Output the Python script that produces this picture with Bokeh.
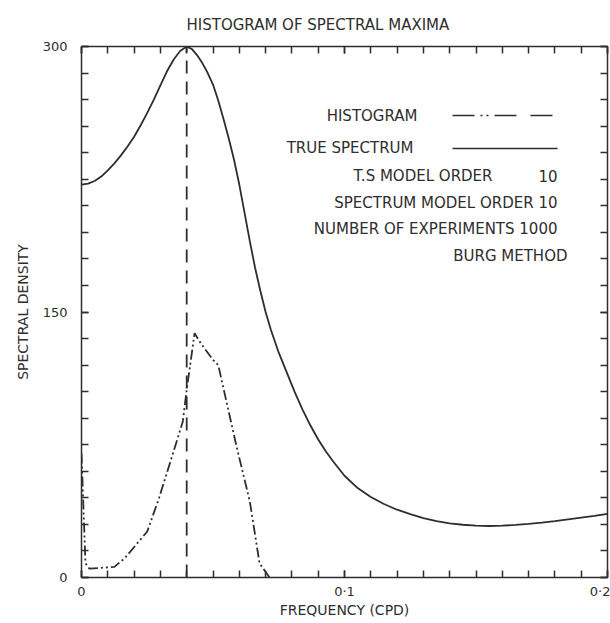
from bokeh.plotting import figure
from bokeh.models import (Range1d, FixedTicker, LinearAxis, CustomJSTickFormatter, Label)
from bokeh.embed import file_html
from bokeh.resources import INLINE

# ---------------- data ----------------
# true spectrum (solid line)
true_freq = [0.000, 0.0025, 0.005, 0.0075, 0.010, 0.0125, 0.015, 0.0175, 0.020,
             0.0225, 0.025, 0.0275, 0.030, 0.0325, 0.035, 0.0375, 0.040, 0.042,
             0.044, 0.046, 0.048, 0.050, 0.052, 0.054, 0.056, 0.058, 0.060,
             0.062, 0.064, 0.066, 0.068, 0.070, 0.072, 0.075, 0.078, 0.081,
             0.084, 0.087, 0.090, 0.093, 0.096, 0.100, 0.105, 0.110, 0.115,
             0.120, 0.125, 0.130, 0.135, 0.140, 0.145, 0.150, 0.155, 0.160,
             0.165, 0.170, 0.175, 0.180, 0.185, 0.190, 0.195, 0.200]
true_vals = [222, 222.5, 224, 226.5, 230, 234, 238.5, 243.5, 249,
             255.5, 262.5, 270, 278, 286, 292.5, 297.5, 300, 298.5,
             295, 290.5, 285, 278.5, 269.5, 259, 248, 236, 222,
             206, 190, 175, 162, 150, 140, 127, 116, 105,
             95, 86, 78, 71, 65, 57.5, 50.5, 45.5, 41.5,
             38.3, 35.8, 33.5, 31.8, 30.6, 29.8, 29.3, 29.1, 29.3,
             29.7, 30.3, 31, 31.8, 32.8, 33.8, 34.8, 36]

# histogram of spectral maxima (dash-dot-dot line)
hist_freq = [0.0, 0.0015, 0.003, 0.0125, 0.0165, 0.025, 0.0295, 0.0335, 0.0385,
             0.040, 0.043, 0.0455, 0.050, 0.052, 0.0588, 0.064, 0.0677, 0.0715]
hist_vals = [70, 8, 5, 6, 11, 26, 45, 64, 88,
             106, 138, 132, 123, 120, 75, 43, 8, 0]

# frequency of the true spectral peak (vertical dashed line)
peak_freq = [0.04]
peak_vals = [300]

x_major = [0, 0.1, 0.2]
x_minor = [round(0.01 * i, 2) for i in range(21)]
y_major = [0, 150, 300]
y_minor = [15 * i for i in range(21)]

legend_lines = ["T.S MODEL ORDER", "SPECTRUM MODEL ORDER 10",
                "NUMBER OF EXPERIMENTS 1000", "BURG METHOD"]

# ---------------- figure ----------------
INK = "#2e2e2e"
FONT = "DejaVu Sans"

W, H = 610, 623
FL, FR, FT, FB = 81, 607, 46, 577   # frame edges in pixels

p = figure(width=W, height=H, x_range=Range1d(0, 0.2), y_range=Range1d(0, 300),
           toolbar_location=None, output_backend="svg",
           min_border_left=FL, min_border_right=W - FR,
           min_border_top=FT, min_border_bottom=H - FB,
           x_axis_location=None, y_axis_location=None)
p.grid.visible = False
p.outline_line_color = INK
p.outline_line_width = 1.5
p.background_fill_color = "white"
p.border_fill_color = "white"

p.title.text = "HISTOGRAM OF SPECTRAL MAXIMA"
p.title.align = "left"
p.title.text_font = FONT
p.title.text_font_size = "15px"
p.title.text_font_style = "normal"
p.title.text_color = INK
p.title.offset = 105
p.title.standoff = 26

fmt_x = CustomJSTickFormatter(code="return tick == 0 ? '0' : tick.toFixed(1).replace('.', '\u00b7');")
blank = CustomJSTickFormatter(code="return '';")


def style_axis(ax, ticks, minor, labels=True):
    ax.ticker = FixedTicker(ticks=ticks, minor_ticks=minor)
    ax.axis_line_color = None
    ax.major_tick_in = 7
    ax.major_tick_out = 0
    ax.minor_tick_in = 7
    ax.minor_tick_out = 0
    ax.major_tick_line_color = INK
    ax.minor_tick_line_color = INK
    ax.major_tick_line_width = 1.5
    ax.minor_tick_line_width = 1.5
    ax.major_label_text_font = FONT
    ax.major_label_text_color = INK
    ax.axis_label_text_font = FONT
    ax.axis_label_text_color = INK
    ax.axis_label_text_font_style = "normal"
    if not labels:
        ax.formatter = blank
        ax.major_label_text_font_size = "0px"
        ax.major_label_standoff = 0


xb = LinearAxis(axis_label="FREQUENCY (CPD)")
style_axis(xb, x_major, x_minor)
xb.formatter = fmt_x
xb.major_label_text_font_size = "13px"
xb.major_label_standoff = 6
xb.axis_label_text_font_size = "14px"
xb.axis_label_standoff = 0
p.add_layout(xb, "below")

yl = LinearAxis(axis_label="SPECTRAL DENSITY")
style_axis(yl, y_major, y_minor)
yl.major_label_text_font_size = "13px"
yl.major_label_standoff = 14
yl.axis_label_text_font_size = "14px"
yl.axis_label_standoff = 9
p.add_layout(yl, "left")

xt = LinearAxis()
style_axis(xt, x_major, x_minor, labels=False)
p.add_layout(xt, "above")

yr = LinearAxis()
style_axis(yr, y_major, y_minor, labels=False)
p.add_layout(yr, "right")

# ---------------- data marks ----------------
p.line(true_freq, true_vals, line_color=INK, line_width=1.8)
p.line(hist_freq, hist_vals, line_color=INK, line_width=1.8, line_dash="10 3 2 3 2 3")
p.segment(x0=peak_freq, y0=[0], x1=peak_freq, y1=peak_vals,
          line_color=INK, line_width=1.8, line_dash="13 8")


# ---------------- legend block (pixel placement -> data) ----------------
def dx(px):
    return (px - FL) / (FR - FL) * 0.2


def dy(py):
    return (FB - py) / (FB - FT) * 300


def add_text(txt, px, py, align="right"):
    p.add_layout(Label(x=dx(px), y=dy(py), text=txt, text_align=align,
                       text_baseline="middle", text_font=FONT,
                       text_font_size="15px", text_color=INK))


add_text("HISTOGRAM", 417, 115)
add_text("TRUE SPECTRUM", 413, 147)
add_text(legend_lines[0], 492, 175)
add_text("10", 557, 175)
add_text(legend_lines[1], 557, 202)
add_text(legend_lines[2], 557, 228)
add_text(legend_lines[3], 567, 255)

p.segment(x0=[dx(452)], y0=[dy(115)], x1=[dx(557)], y1=[dy(115)],
          line_color=INK, line_width=1.5, line_dash="22 6 2 4 2 6 22 14")
p.segment(x0=[dx(452)], y0=[dy(148)], x1=[dx(557)], y1=[dy(148)],
          line_color=INK, line_width=1.5)

open("out.html", "w").write(file_html(p, INLINE))
